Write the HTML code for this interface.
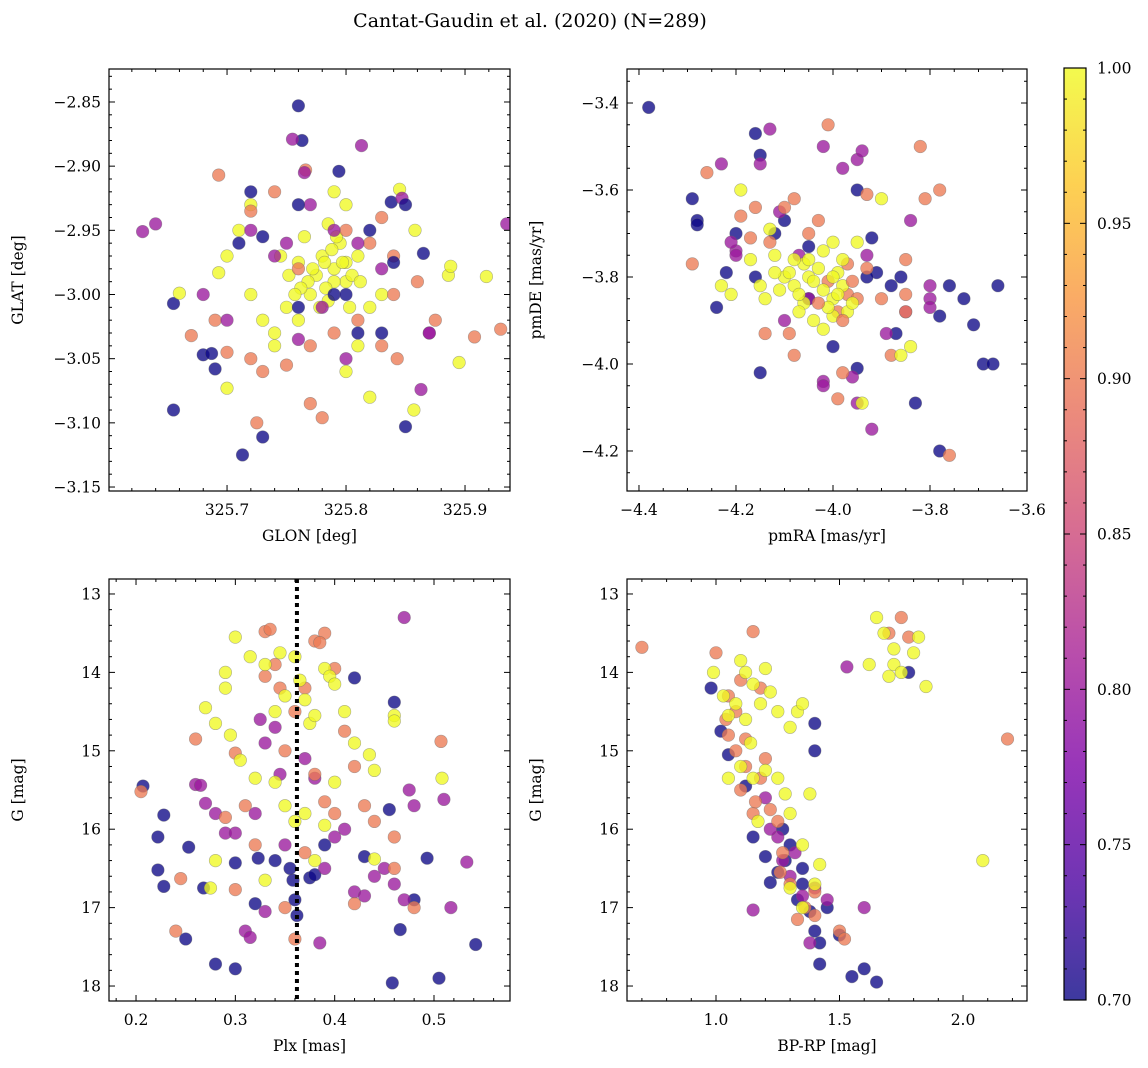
<!DOCTYPE html>
<html><head><meta charset="utf-8"><style>
html,body{margin:0;padding:0;background:#fff;}
svg{display:block;font-family:"DejaVu Serif","Liberation Serif",serif;}
</style></head><body>
<svg id="fig" width="1148" height="1068" viewBox="0 0 1148 1068" xmlns="http://www.w3.org/2000/svg">
<defs><linearGradient id="plasma" x1="0" y1="1" x2="0" y2="0">
<stop offset="0" stop-color="#0d0887"/><stop offset="0.125" stop-color="#4c02a1"/><stop offset="0.25" stop-color="#7e03a8"/><stop offset="0.375" stop-color="#a82296"/><stop offset="0.5" stop-color="#cc4778"/><stop offset="0.625" stop-color="#e66c5c"/><stop offset="0.75" stop-color="#f89540"/><stop offset="0.875" stop-color="#fdc527"/><stop offset="1" stop-color="#f0f921"/>
</linearGradient></defs>
<text x="530" y="27" font-size="19" text-anchor="middle">Cantat-Gaudin et al. (2020) (N=289)</text>
</svg>
<script>
// ---- data ----
const tlX=[325.76,325.763,325.755,325.813,325.766,325.765,325.794,325.629,325.64,325.693,325.935,325.655,325.66,325.655,325.67,325.68,325.687,325.69,325.693,325.7,325.713,325.725,325.73,325.77,325.78,325.85,325.857,325.843,325.863,325.895,325.908,325.93,325.886,325.888,325.918,325.87,325.875,325.865,325.858,325.845,325.838,325.847,
325.78,325.79,325.80,325.77,325.76,325.81,325.795,325.785,325.80,325.79,325.82,325.75,325.74,325.73,325.72,325.70,325.71,325.72,325.74,325.81,325.80,325.82,325.83,325.76,325.775,325.785,325.765,325.80,325.745,
325.79,325.783,325.797,325.805,325.772,325.768,325.788,325.778,325.812,325.752,325.762,325.792,325.803,325.757,325.782,
325.74,325.72,325.76,325.80,325.82,325.83,325.83,325.72,325.73,325.77,325.79,325.84,325.86,325.81,325.75,325.69,325.7,325.84,
325.75,325.74,325.76,325.78,325.72,325.81,325.80,325.83,325.68,325.7,325.87,325.77,325.79,
325.72,325.71,325.76,325.82,325.84,325.85,325.79,325.76,325.81,325.83,325.73,325.8];
const tlY=[-2.853,-2.88,-2.879,-2.884,-2.903,-2.905,-2.904,-2.951,-2.945,-2.907,-2.945,-3.007,-2.999,-3.09,-3.032,-3.047,-3.046,-3.058,-2.983,-3.073,-3.125,-3.1,-3.111,-3.085,-3.096,-3.103,-3.09,-3.05,-3.074,-3.053,-3.033,-3.027,-2.985,-2.978,-2.986,-3.03,-3.02,-2.968,-2.95,-2.918,-2.928,-2.925,
-2.97,-2.98,-2.99,-3.0,-2.975,-2.97,-2.96,-2.945,-2.93,-2.92,-3.01,-3.01,-3.03,-3.02,-3.0,-2.97,-2.95,-2.93,-3.04,-3.04,-3.06,-3.08,-3.0,-3.02,-2.985,-3.005,-2.955,-2.975,-2.97,
-2.99,-2.995,-2.975,-2.985,-2.98,-2.99,-2.965,-3.01,-2.99,-2.985,-2.995,-2.955,-3.01,-3.0,-2.975,
-2.92,-2.935,-2.98,-2.95,-2.96,-2.94,-3.04,-3.05,-3.06,-3.04,-3.03,-3.0,-2.99,-3.02,-3.055,-3.02,-3.045,-2.97,
-2.96,-2.97,-3.035,-3.01,-2.95,-2.96,-3.05,-2.98,-3.0,-3.02,-3.03,-2.93,-2.95,
-2.92,-2.96,-2.93,-2.95,-2.975,-2.93,-3.0,-3.01,-3.03,-3.03,-2.955,-3.0];
const tlP=[0.7,0.7,0.8,0.8,0.9,0.8,0.7,0.8,0.8,0.9,0.8,0.7,1,0.7,0.9,0.7,0.7,0.7,1,1,0.7,0.9,0.7,0.9,0.9,0.7,1,0.9,0.8,1,0.9,0.9,1,1,1,0.8,0.9,0.7,1,1,0.7,0.8,
1,1,1,1,1,1,1,1,1,1,1,1,1,1,1,1,1,1,1,1,1,1,1,1,1,1,1,1,1,
1,1,1,1,1,1,1,1,1,1,1,1,1,1,1,
0.9,0.9,0.9,0.9,0.9,0.9,0.9,0.9,0.9,0.9,0.9,0.9,0.9,0.9,0.9,0.9,0.9,0.9,
0.8,0.8,0.8,0.8,0.8,0.8,0.8,0.8,0.8,0.8,0.8,0.8,0.8,
0.7,0.7,0.7,0.7,0.7,0.7,0.7,0.7,0.7,0.7,0.7,0.7];

const trX=[-4.38,-4.29,-4.28,-4.28,-4.24,-4.22,-4.16,-4.15,-4.15,-4.16,-3.95,-3.91,-3.92,-3.88,-3.86,-3.87,-3.83,-3.78,-3.76,-3.73,-3.71,-3.69,-3.67,-3.66,-3.78,-3.95,-4.0,-4.05,-4.1,-4.12,-4.2,-4.05,-3.93,
-4.23,-4.15,-4.13,-4.2,-4.21,-4.02,-3.95,-3.94,-3.98,-3.93,-3.84,-3.8,-3.8,-3.8,-3.85,-3.92,-3.95,-3.96,-4.02,-4.02,-4.05,-4.07,-4.1,-4.11,-3.89,-4.2,
-4.26,-4.29,-4.19,-4.17,-4.14,-4.08,-4.01,-3.93,-3.81,-3.78,-3.82,-3.85,-3.85,-3.85,-3.9,-3.97,-3.99,-3.98,-4.05,-4.03,-4.08,-4.1,-4.13,-4.16,-3.88,-3.76,-3.99,-4.01,-3.97,-3.95,-3.93,-4.09,
-4.19,-4.23,-4.21,-4.17,-4.14,-4.12,-4.1,-4.08,-4.06,-4.05,-4.03,-4.02,-4.0,-3.99,-3.98,-3.97,-4.0,-4.02,-4.06,-3.96,-4.04,-4.07,-4.11,-3.95,-3.9,-3.86,-3.84,-3.94,-4.13,-4.0,-4.15,-3.98,-4.08,
-4.04,-4.01,-3.99,-4.03,-4.07,-4.09,-3.96,-4.0,-4.05,-4.12,-3.98,-4.02];
const trY=[-3.41,-3.62,-3.67,-3.68,-3.87,-3.79,-3.47,-3.52,-4.02,-3.8,-3.6,-3.79,-3.71,-3.82,-3.8,-3.93,-4.09,-3.89,-3.82,-3.85,-3.91,-4.0,-4.0,-3.82,-4.2,-4.01,-3.96,-3.73,-3.67,-3.7,-3.7,-3.85,-3.8,
-3.54,-3.54,-3.46,-3.74,-3.72,-3.5,-3.53,-3.51,-3.55,-3.75,-3.67,-3.82,-3.85,-3.87,-3.88,-4.15,-4.09,-4.03,-4.04,-4.05,-3.85,-3.75,-3.9,-3.65,-3.93,-3.75,
-3.56,-3.77,-3.66,-3.71,-3.93,-3.98,-3.45,-3.61,-3.62,-3.6,-3.5,-3.88,-3.84,-3.76,-3.85,-3.84,-4.08,-4.02,-3.7,-3.67,-3.62,-3.64,-3.72,-3.64,-3.98,-4.21,-3.88,-3.81,-3.77,-3.85,-3.78,-3.93,
-3.6,-3.82,-3.84,-3.76,-3.85,-3.75,-3.8,-3.82,-3.86,-3.8,-3.78,-3.83,-3.85,-3.79,-3.82,-3.88,-3.72,-3.74,-3.77,-3.86,-3.9,-3.88,-3.83,-3.72,-3.62,-3.98,-3.96,-4.09,-3.69,-3.89,-3.82,-3.76,-3.76,
-3.81,-3.87,-3.84,-3.86,-3.84,-3.79,-3.81,-3.8,-3.76,-3.79,-3.9,-3.92];
const trP=[0.7,0.7,0.7,0.7,0.7,0.7,0.7,0.7,0.7,0.7,0.7,0.7,0.7,0.7,0.7,0.7,0.7,0.7,0.7,0.7,0.7,0.7,0.7,0.7,0.7,0.7,0.7,0.7,0.7,0.7,0.7,0.7,0.7,
0.8,0.8,0.8,0.8,0.8,0.8,0.8,0.8,0.8,0.8,0.8,0.8,0.8,0.8,0.8,0.8,0.8,0.8,0.8,0.8,0.8,0.8,0.8,0.8,0.8,0.8,
0.9,0.9,0.9,0.9,0.9,0.9,0.9,0.9,0.9,0.9,0.9,0.9,0.9,0.9,0.9,0.9,0.9,0.9,0.9,0.9,0.9,0.9,0.9,0.9,0.9,0.9,0.9,0.9,0.9,0.9,0.9,0.9,
1,1,1,1,1,1,1,1,1,1,1,1,1,1,1,1,1,1,1,1,1,1,1,1,1,1,1,1,1,1,1,1,1,
1,1,1,0.9,1,1,0.9,1,1,1,0.9,1];

const blX=[0.207,0.222,0.228,0.222,0.228,0.25,0.28,0.3,0.253,0.268,0.3,0.323,0.34,0.358,0.36,0.362,0.375,0.38,0.42,0.46,0.455,0.458,0.466,0.48,0.493,0.505,0.542,0.32,0.355,0.39,0.43,
0.26,0.265,0.27,0.28,0.29,0.3,0.32,0.31,0.315,0.33,0.35,0.345,0.37,0.38,0.39,0.385,0.4,0.41,0.42,0.43,0.44,0.45,0.46,0.47,0.47,0.475,0.48,0.517,0.533,0.51,0.34,0.325,0.33,
0.205,0.24,0.245,0.26,0.29,0.3,0.31,0.3,0.33,0.335,0.34,0.345,0.33,0.36,0.38,0.39,0.385,0.4,0.41,0.42,0.43,0.44,0.46,0.46,0.42,0.35,0.36,0.38,0.39,0.4,0.37,0.35,0.32,0.507,0.48,0.37,
0.3,0.315,0.33,0.345,0.34,0.36,0.365,0.37,0.375,0.38,0.39,0.395,0.4,0.41,0.42,0.435,0.44,0.46,0.46,0.508,0.44,0.27,0.28,0.29,0.295,0.305,0.32,0.34,0.35,0.36,0.37,0.38,0.39,0.4,0.28,0.275,0.33,0.35,0.29];
const blY=[15.45,16.1,15.82,16.52,16.73,17.4,17.72,17.78,16.23,16.75,16.43,16.37,16.4,16.65,16.9,17.1,16.62,16.58,14.07,14.38,15.75,17.96,17.28,16.9,16.37,17.9,17.47,16.95,16.5,16.2,16.35,
15.43,15.44,15.67,15.8,16.05,16.05,15.8,17.3,17.38,17.05,16.2,15.3,15.1,15.35,16.5,17.45,16.1,16.0,16.8,16.85,16.6,16.5,16.7,16.9,13.3,15.5,15.7,17.0,16.42,15.62,14.7,14.6,14.9,
15.52,17.3,16.63,14.85,15.85,15.03,15.7,16.77,13.48,13.45,13.9,14.2,14.05,14.5,13.6,13.5,13.62,13.95,14.75,15.2,15.7,15.9,16.1,16.5,16.95,17.0,17.4,15.3,15.65,15.8,14.2,15.0,16.2,14.88,17.0,16.3,
13.55,13.8,13.9,13.75,14.5,13.8,14.1,14.35,14.65,14.55,13.95,14.05,14.15,14.5,14.9,15.05,15.25,14.55,14.62,15.35,16.38,14.45,14.65,14.2,14.8,15.12,15.35,15.4,15.7,15.9,15.8,16.4,15.95,15.4,16.4,16.75,16.65,14.3,14.0];
const blP=[0.7,0.7,0.7,0.7,0.7,0.7,0.7,0.7,0.7,0.7,0.7,0.7,0.7,0.7,0.7,0.7,0.7,0.7,0.7,0.7,0.7,0.7,0.7,0.7,0.7,0.7,0.7,0.7,0.7,0.7,0.7,
0.8,0.8,0.8,0.8,0.8,0.8,0.8,0.8,0.8,0.8,0.8,0.8,0.8,0.8,0.8,0.8,0.8,0.8,0.8,0.8,0.8,0.8,0.8,0.8,0.8,0.8,0.8,0.8,0.8,0.8,0.8,0.8,0.8,
0.9,0.9,0.9,0.9,0.9,0.9,0.9,0.9,0.9,0.9,0.9,0.9,0.9,0.9,0.9,0.9,0.9,0.9,0.9,0.9,0.9,0.9,0.9,0.9,0.9,0.9,0.9,0.9,0.9,0.9,0.9,0.9,0.9,0.9,0.9,0.9,
1,1,1,1,1,1,1,1,1,1,1,1,1,1,1,1,1,1,1,1,1,1,1,1,1,1,1,1,1,1,1,1,1,1,1,1,1,1,1];
const plxLine=[0.362];

const brX=[0.98,1.02,1.05,1.12,1.15,1.2,1.22,1.25,1.27,1.3,1.35,1.38,1.4,1.42,1.42,1.5,1.55,1.6,1.65,1.4,1.4,1.33,1.28,1.78,1.35,1.45,
1.15,1.27,1.3,1.32,1.35,1.38,1.25,1.53,1.6,1.2,1.22,1.4,1.45,
0.70,1.0,1.15,1.05,1.05,1.08,1.1,1.12,1.15,1.18,1.2,1.22,1.25,1.27,1.3,1.33,1.4,1.5,1.52,1.12,1.08,1.1,1.18,1.7,1.75,1.78,2.18,1.16,1.26,1.36,1.4,1.04,
0.99,1.03,1.05,1.08,1.1,1.12,1.15,1.18,1.2,1.22,1.25,1.3,1.33,1.35,1.12,1.14,1.15,1.2,1.25,1.28,1.3,1.35,1.4,1.42,1.3,1.35,1.17,1.1,1.62,1.65,1.68,1.72,1.72,1.75,1.8,1.82,1.85,1.7,2.08,1.38,1.05];
const brY=[14.2,14.75,15.05,15.45,16.1,16.35,16.68,16.55,16.0,16.2,16.5,17.05,17.3,17.45,17.72,17.35,17.88,17.78,17.95,14.65,15.0,16.9,16.4,14.0,16.7,17.0,
17.03,16.4,16.6,16.3,16.85,17.45,16.1,13.93,17.0,15.6,16.0,16.75,16.9,
13.68,13.75,13.48,14.3,14.8,15.0,15.5,15.2,15.8,15.35,15.1,15.75,15.9,16.3,16.7,17.15,16.8,17.3,17.4,14.85,14.5,14.1,14.2,13.5,13.3,13.55,14.85,15.65,16.55,17.0,17.1,14.6,
14.0,14.3,14.55,14.4,13.85,14.0,14.15,14.4,13.95,14.25,14.5,14.7,14.5,14.4,14.6,14.9,15.35,15.25,15.35,15.55,15.8,16.2,16.7,16.45,16.75,17.0,15.9,15.2,13.9,13.3,13.5,13.7,13.9,14.0,13.75,13.55,14.18,14.05,16.4,15.55,15.35];
const brP=[0.7,0.7,0.7,0.7,0.7,0.7,0.7,0.7,0.7,0.7,0.7,0.7,0.7,0.7,0.7,0.7,0.7,0.7,0.7,0.7,0.7,0.7,0.7,0.7,0.7,0.7,
0.8,0.8,0.8,0.8,0.8,0.8,0.8,0.8,0.8,0.8,0.8,0.8,0.8,
0.9,0.9,0.9,0.9,0.9,0.9,0.9,0.9,0.9,0.9,0.9,0.9,0.9,0.9,0.9,0.9,0.9,0.9,0.9,0.9,0.9,0.9,0.9,0.9,0.9,0.9,0.9,0.9,0.9,0.9,0.9,0.9,
1,1,1,1,1,1,1,1,1,1,1,1,1,1,1,1,1,1,1,1,1,1,1,1,1,1,1,1,1,1,1,1,1,1,1,1,1,1,1,1,1];

const cbTicks=[0.70,0.75,0.80,0.85,0.90,0.95,1.00];

// ---- drawing ----
const svg=document.getElementById('fig');
const NS='http://www.w3.org/2000/svg';
function mk(tag,at,parent){const e=document.createElementNS(NS,tag);for(const k in at)e.setAttribute(k,at[k]);(parent||svg).appendChild(e);return e;}
const stops=[[0,[13,8,135]],[0.125,[76,2,161]],[0.25,[126,3,168]],[0.375,[168,34,150]],[0.5,[204,71,120]],[0.625,[230,108,92]],[0.75,[248,149,64]],[0.875,[253,197,39]],[1,[240,249,33]]];
function cmap(p){let t=(p-0.7)/0.3;t=Math.max(0,Math.min(1,t));for(let i=1;i<stops.length;i++){if(t<=stops[i][0]){const a=stops[i-1],b=stops[i];const f=(t-a[0])/(b[0]-a[0]);const c=a[1].map((v,j)=>Math.round(v+(b[1][j]-v)*f));return 'rgb('+c.join(',')+')';}}return 'rgb(240,249,33)';}

function panel(name,box,xd,yd,xMaj,xMin,yMaj,yMin,xl,yl,xs,ys,ps,fmtx,fmty,vline){
  const [L,T,R,B]=box;
  const g=mk('g',{});
  
  
  const sx=v=>L+(v-xd[0])/(xd[1]-xd[0])*(R-L);
  const sy=v=>T+(v-yd[1])/(yd[0]-yd[1])*(B-T);
  const clip=mk('clipPath',{id:name+'-clip'},g);mk('rect',{x:L,y:T,width:R-L,height:B-T},clip);
  const pts=mk('g',{'clip-path':'url(#'+name+'-clip)'},g);
  for(let i=0;i<xs.length;i++){
    const c=mk('circle',{cx:sx(xs[i]).toFixed(1),cy:sy(ys[i]).toFixed(1),r:6.3,fill:cmap(ps[i]),'fill-opacity':0.78,stroke:'#666','stroke-opacity':0.5,'stroke-width':0.6},pts);
    
    
  }
  if(vline!==undefined){
    const l=mk('line',{x1:sx(vline),x2:sx(vline),y1:T,y2:B,stroke:'#000','stroke-width':4,'stroke-dasharray':'4,4'},g);
    
    
  }
  mk('rect',{x:L,y:T,width:R-L,height:B-T,fill:'none',stroke:'#000','stroke-width':1.2},g);
  const eps=1e-9;
  for(let v=Math.ceil(xd[0]/xMin-eps)*xMin;v<=xd[1]+eps;v+=xMin){
    const isMaj=Math.abs(v/xMaj-Math.round(v/xMaj))<1e-6;const len=isMaj?6:3;const X=sx(v);
    mk('line',{x1:X,x2:X,y1:B,y2:B-len,stroke:'#000','stroke-width':1},g);
    mk('line',{x1:X,x2:X,y1:T,y2:T+len,stroke:'#000','stroke-width':1},g);
    if(isMaj){const t=mk('text',{x:X,y:B+24,'font-size':15.5,'text-anchor':'middle'},g);t.textContent=fmtx(v);
      }
  }
  for(let v=Math.ceil(yd[0]/yMin-eps)*yMin;v<=yd[1]+eps;v+=yMin){
    const isMaj=Math.abs(v/yMaj-Math.round(v/yMaj))<1e-6;const len=isMaj?6:3;const Y=sy(v);
    mk('line',{x1:L,x2:L+len,y1:Y,y2:Y,stroke:'#000','stroke-width':1},g);
    mk('line',{x1:R,x2:R-len,y1:Y,y2:Y,stroke:'#000','stroke-width':1},g);
    if(isMaj){const t=mk('text',{x:L-8,y:Y+5.5,'font-size':15.5,'text-anchor':'end'},g);t.textContent=fmty(v);
      }
  }
  const xt=mk('text',{x:(L+R)/2,y:B+50,'font-size':15.5,'text-anchor':'middle'},g);xt.textContent=xl;
  
  const yt=mk('text',{x:0,y:0,'font-size':15.5,'text-anchor':'middle',transform:'translate('+(L-86)+','+((T+B)/2)+') rotate(-90)'},g);yt.textContent=yl;
  
}
const m=s=>s.replace('-','\u2212');
panel('glon-glat-panel',[109,69,510,491],[325.6008,325.9378],[-3.1531,-2.8243],0.1,0.02,0.05,0.01,'GLON [deg]','GLAT [deg]',tlX,tlY,tlP,v=>v.toFixed(1),v=>m(v.toFixed(2)));
panel('proper-motion-panel',[627,69,1027,491],[-4.4247,-3.6],[-4.292,-3.3218],0.2,0.05,0.2,0.05,'pmRA [mas/yr]','pmDE [mas/yr]',trX,trY,trP,v=>m(v.toFixed(1)),v=>m(v.toFixed(1)));
panel('parallax-mag-panel',[109,579,510,1001],[0.1728,0.5765],[-18.191,-12.809],0.1,0.02,1,0.2,'Plx [mas]','G [mag]',blX,blY.map(v=>-v),blP,v=>v.toFixed(1),v=>String(Math.round(-v)),plxLine[0]);
panel('cmd-panel',[627,579,1027,1001],[0.6397,2.259],[-18.191,-12.809],0.5,0.1,1,0.2,'BP-RP [mag]','G [mag]',brX,brY.map(v=>-v),brP,v=>v.toFixed(1),v=>String(Math.round(-v)));

// colorbar
const cb=mk('g',{});


const cT=68,cB=1000,cL=1064,cR=1086;
mk('rect',{x:cL,y:cT,width:cR-cL,height:cB-cT,fill:'url(#plasma)','fill-opacity':0.8},cb);
mk('rect',{x:cL,y:cT,width:cR-cL,height:cB-cT,fill:'none',stroke:'#000','stroke-width':1.2},cb);
const cy=v=>cB-(v-0.7)/0.3*(cB-cT);
for(let k=70;k<=100;k++){const v=k/100;const maj=k%5===0;
  mk('line',{x1:cR,x2:cR-(maj?6:3),y1:cy(v),y2:cy(v),stroke:'#000','stroke-width':1},cb);
  mk('line',{x1:cL,x2:cL+(maj?6:3),y1:cy(v),y2:cy(v),stroke:'#000','stroke-width':1},cb);}
cbTicks.forEach(v=>{const t=mk('text',{x:cR+11,y:cy(v)+5.5,'font-size':15.5},cb);t.textContent=v.toFixed(2);
  });
</script>
</body></html>
